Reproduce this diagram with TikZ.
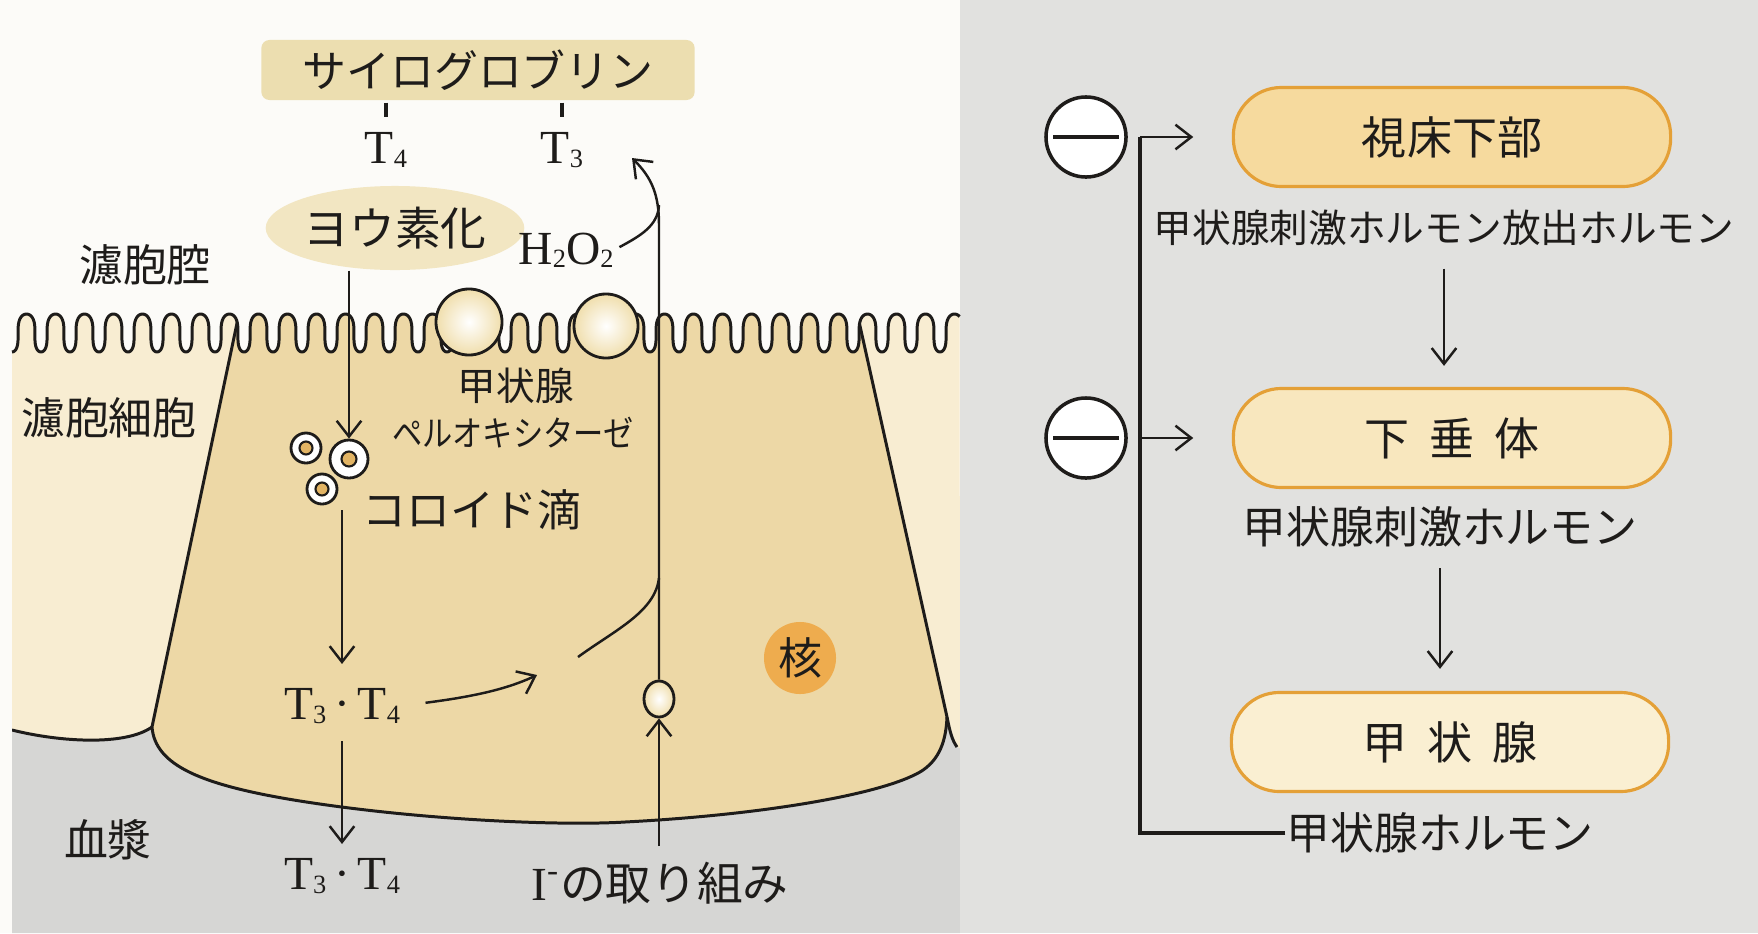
\documentclass[tikz,border=0pt]{standalone}
\usepackage{fontspec}
\setmainfont{Liberation Serif}
\newfontfamily\jp{Noto Sans CJK JP}
\usetikzlibrary{arrows.meta, shapes.geometric, positioning, calc}

\definecolor{ink}{RGB}{30,28,26}
\definecolor{lumen}{RGB}{252,251,248}
\definecolor{neighbour}{RGB}{248,237,210}
\definecolor{cell}{RGB}{237,216,166}
\definecolor{plasma}{RGB}{214,214,212}
\definecolor{panel}{RGB}{225,225,223}
\definecolor{tgfill}{RGB}{236,222,176}
\definecolor{iodfill}{RGB}{242,230,194}
\definecolor{nucleus}{RGB}{238,172,78}
\definecolor{ball}{RGB}{240,222,172}
\definecolor{dot}{RGB}{226,180,100}
\definecolor{rim}{RGB}{228,160,55}
\definecolor{hypofill}{RGB}{246,218,158}
\definecolor{pitfill}{RGB}{248,231,190}
\definecolor{thyfill}{RGB}{250,239,210}

% small subscript digits
\newcommand{\tsub}[1]{\raisebox{-0.15ex}{\fontsize{7.5}{8}\selectfont #1}}
% apical membrane with microvilli (one unit of \t = one villus), and the floor of the middle cell
\newcommand{\villi}{plot[domain=-0.5:32.1, samples=1200, variable=\t] ({12+29*(\t+0.5)+1.2*sin(360*\t)+4.8*sin(360*\t)*cos(360*\t)}, {333-19*cos(360*\t)})}
\newcommand{\cellfloor}{.. controls (155,765) and (200,785) .. (300,801) .. controls (420,820) and (560,826) .. (625,822) .. controls (760,815) and (880,795) .. (920,772) .. controls (940,760) and (946,740) .. (947,717)}

\tikzset{
	jlabel/.style={font=\jp\fontsize{12.5}{14}\selectfont, text=ink, inner sep=0pt},
	tlabel/.style={font=\fontsize{13.5}{15}\selectfont, text=ink, inner sep=0pt},
	edge/.style={draw=ink, line width=0.85pt},
	tgbox/.style={jlabel, fill=tgfill, rounded corners=0.08cm, minimum width=4.33cm, minimum height=0.6cm},
	iodbox/.style={jlabel, ellipse, fill=iodfill, minimum width=2.28cm, minimum height=0.84cm, font=\jp\fontsize{13}{15}\selectfont},
	vesicle/.style={draw=ink, line width=0.8pt, inner color=white, outer color=ball, inner sep=0pt},
	droplet/.style={draw=ink, circle, line width=0.8pt, fill=white, inner sep=0pt},
	core/.style={draw=ink, circle, line width=0.6pt, fill=dot, inner sep=0pt, minimum size=0.13cm},
	% boxes of the feedback loop
	organ/.style={draw=rim, line width=0.9pt, rounded corners=0.48cm, minimum width=4.37cm, minimum height=0.99cm, font=\jp\fontsize{12.8}{15}\selectfont, text=ink},
	minus/.style={draw=ink, circle, line width=1pt, fill=white, minimum size=0.8cm, inner sep=0pt},
}

\begin{document}
\begin{tikzpicture}[x=0.01cm, y=-0.01cm]
	\useasboundingbox (0,0) rectangle (1758,933);
	
	\fill[panel] (0,0) rectangle (1758,933);
	\fill[lumen] (0,0) rectangle (960,933);
	
	\begin{scope}
		\clip \villi -- (960,933) -- (12,933) -- cycle;
		\fill[neighbour] (0,250) rectangle (960,933);
		\fill[cell] (244,290) -- (152,727) \cellfloor -- (852,290) -- cycle;
		\fill[plasma] (12,730) .. controls (60,742) and (125,746) .. (152,727) \cellfloor .. controls (950,732) and (952,740) .. (957,747) -- (960,748) -- (960,933) -- (12,933) -- cycle;
		\draw[edge] (244,290) -- (152,727) \cellfloor;
		\draw[edge] (852,290) -- (947,717) .. controls (950,732) and (952,740) .. (957,747);
		\draw[edge] (12,730) .. controls (60,742) and (125,746) .. (152,727);
	\end{scope}
	\draw[edge, line join=round] \villi;
	
	\node (tg) [tgbox] at (478,70) {サイログロブリン};
	\node (t4) [tlabel] at (386,150) {T\tsub{4}};
	\node (t3) [tlabel] at (562,150) {T\tsub{3}};
	\node (iod) [iodbox] at (395,228) {ヨウ素化};
	\node (h2o2) [tlabel] at (566,250) {H\tsub{2}O\tsub{2}};
	
	\node (lumen) [jlabel] at (145,265) {濾胞腔};
	\node (follicle) [jlabel] at (109,418) {濾胞細胞};
	\node (blood) [jlabel] at (108,840) {血漿};
	
	\node (bub1) [vesicle, circle, minimum size=0.66cm] at (469,322) {};
	\node (bub2) [vesicle, circle, minimum size=0.64cm] at (606,326) {};
	\node (perox1) [jlabel, font=\jp\fontsize{11}{13}\selectfont] at (516,386) {甲状腺};
	\node (perox2) [jlabel, font=\jp\fontsize{10}{12}\selectfont] at (513,433) {\scalebox{0.86}[1]{ペルオキシターゼ}};
	
	\node (drop1) [droplet, minimum size=0.30cm] at (306,448) {};
	\node (drop2) [droplet, minimum size=0.38cm] at (349,459) {};
	\node (drop3) [droplet, minimum size=0.30cm] at (322,489) {};
	\node (core1) [core] at (drop1) {};
	\node (core2) [core, minimum size=0.15cm] at (drop2) {};
	\node (core3) [core] at (drop3) {};
	\node (coll) [jlabel] at (472,510) {コロイド滴};
	
	\node (t3t4in) [tlabel] at (342,706) {T\tsub{3}\,·\,T\tsub{4}};
	\node (t3t4out) [tlabel] at (342,876) {T\tsub{3}\,·\,T\tsub{4}};
	\node (nuc) [jlabel, circle, fill=nucleus, minimum size=0.72cm] at (800,658) {核};
	\node (ves) [vesicle, ellipse, minimum width=0.3cm, minimum height=0.36cm] at (659,699) {};
	\node (iodide) [tlabel] at (660,883) {I\textsuperscript{-}{\jp\fontsize{13}{15}\selectfont の取り組み}};
	
	\coordinate (bend) at (659,225);
	\coordinate (uptip) at (632,158);
	\coordinate (h2join) at (659,205);
	\coordinate (drift) at (537,675);
	\coordinate (risefoot) at (578,657);
	\coordinate (risetop) at (659,578);
	
	% hypothalamus - pituitary - thyroid axis
	\node (hypo) [organ, fill=hypofill] at (1452,137) {視床下部};
	\node (trh) [jlabel, font=\jp\fontsize{11}{13}\selectfont] at (1444,228) {甲状腺刺激ホルモン放出ホルモン};
	\node (pit) [organ, fill=pitfill] at (1452,438) {下\hspace{0.45em}垂\hspace{0.45em}体};
	\node (tsh) [jlabel] at (1440,527) {甲状腺刺激ホルモン};
	\node (thy) [organ, fill=thyfill] at (1450,742) {甲\hspace{0.45em}状\hspace{0.45em}腺};
	\node (th) [jlabel] at (1440,833) {甲状腺ホルモン};
	
	\node (m1) [minus] at (1086,137) {};
	\node (m2) [minus] at (1086,438) {};
	\coordinate (fbtop) at (1140,137);
	\coordinate (fbmid) at (1140,438);
	
	\begin{scope}[line width=0.7pt, ink, ->, >={Straight Barb[length=4.5pt,width=7pt]}]
		\draw[-, line width=0.9pt, shorten <=0.02cm, shorten >=0.15cm] (t4 |- tg.south) -- (t4.north);
		\draw[-, line width=0.9pt, shorten <=0.02cm, shorten >=0.15cm] (t3 |- tg.south) -- (t3.north);
		
		\draw (iod.south -| drop2) -- (drop2.north);
		\draw[shorten <=0.05cm, shorten >=0.24cm] (drop3.south -| t3t4in) -- (t3t4in.north);
		\draw[shorten <=0.17cm, shorten >=0.14cm] (t3t4in.south) -- (t3t4out.north);
		\draw[shorten <=0.25cm] (t3t4in.east) .. controls (470,697) and (505,690) .. (drift);
		\draw[-] (risefoot) .. controls (615,630) and (655,612) .. (risetop);
		
		\draw[shorten <=0.15cm] (iodide.north -| ves) -- (ves.south);
		\draw (ves.north) -- (bend) .. controls (659,195) and (652,178) .. (uptip);
		\draw[-, shorten <=0.06cm] (h2o2.east) .. controls (640,236) and (658,226) .. (h2join);
		
		\draw[-, line width=1.1pt, shorten <=0.09cm, shorten >=0.09cm] (m1.west) -- (m1.east);
		\draw[-, line width=1.1pt, shorten <=0.09cm, shorten >=0.09cm] (m2.west) -- (m2.east);
		\draw[-, line width=0.9pt] (th.west) -- (th.west -| fbtop) -- (fbtop);
		\draw[shorten >=0.385cm] (fbtop) -- (hypo.west);
		\draw[shorten >=0.385cm] (fbmid) -- (pit.west);
		\draw[shorten <=0.22cm, shorten >=0.21cm] (trh) -- (trh |- pit.north);
		\draw[shorten <=0.2cm, shorten >=0.22cm] (tsh) -- (tsh |- thy.north);
	\end{scope}
\end{tikzpicture}
\end{document}
